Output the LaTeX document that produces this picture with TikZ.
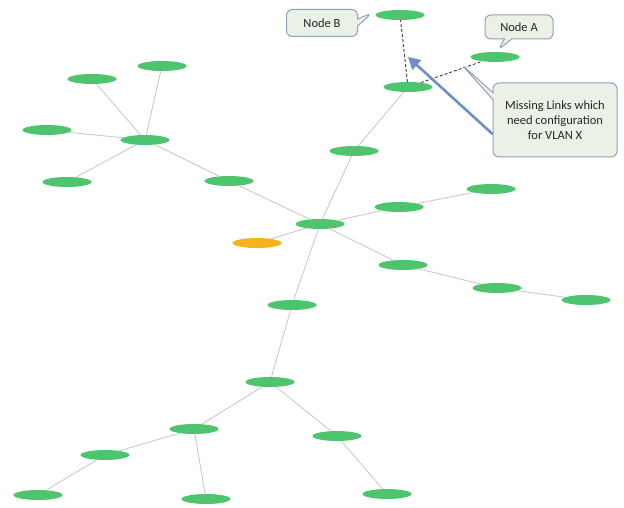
\documentclass[tikz,border=0pt]{standalone}
\usepackage{fontspec}
\setmainfont{Carlito}
\usetikzlibrary{shapes.geometric,shapes.callouts,arrows.meta}
\definecolor{nodegreen}{HTML}{4EC46E}
\definecolor{nodeorange}{HTML}{F5B320}
\definecolor{edgegray}{HTML}{CACACA}
\definecolor{calloutfill}{HTML}{EBF1E7}
\definecolor{calloutline}{HTML}{8FA2B6}
\definecolor{arrowblue}{HTML}{6F8FCB}
\begin{document}
\begin{tikzpicture}[x=1pt,y=-1pt,
  host/.style={ellipse,fill=nodegreen,draw=none,minimum width=49pt,minimum height=10pt,inner sep=0pt},
  hostalt/.style={host,fill=nodeorange},
  link/.style={draw=edgegray,line width=0.9pt},
  missing/.style={draw=black!75,dashed,line width=0.9pt,dash pattern=on 3pt off 2pt},
  note/.style={rectangle callout,rounded corners=6pt,fill=calloutfill,draw=calloutline,line width=1pt,
    font=\fontsize{12.5}{15}\selectfont,text=black!85,align=center}
]
\useasboundingbox (0,0) rectangle (624,508);

% hosts
\node[host] (nb) at (400,15) {};
\node[host] (na) at (495,57) {};
\node[host] (n3) at (408,87) {};
\node[host] (n4) at (354,151) {};
\node[host] (n5) at (145,140) {};
\node[host] (n6) at (92,79) {};
\node[host] (n7) at (162,66) {};
\node[host] (n8) at (47,130) {};
\node[host] (n9) at (67,182) {};
\node[host] (n10) at (229,181) {};
\node[host] (hub) at (320,224) {};
\node[hostalt] (gw) at (257,243) {};
\node[host] (n13) at (399,207) {};
\node[host] (n14) at (491,189) {};
\node[host] (n15) at (403,265) {};
\node[host] (n16) at (497,288) {};
\node[host] (n17) at (586,300) {};
\node[host] (n18) at (292,305) {};
\node[host] (n19) at (270,382) {};
\node[host] (n20) at (194,429) {};
\node[host] (n21) at (337,436) {};
\node[host] (n22) at (105,455) {};
\node[host] (n23) at (38,495) {};
\node[host] (n24) at (206,499) {};
\node[host] (n25) at (387,494) {};

% existing links
\draw[link] (n5) -- (n6);
\draw[link] (n5) -- (n7);
\draw[link] (n5) -- (n8);
\draw[link] (n5) -- (n9);
\draw[link] (n5) -- (n10);
\draw[link] (n10) -- (hub);
\draw[link] (hub) -- (n4);
\draw[link] (n4) -- (n3);
\draw[link] (hub) -- (gw);
\draw[link] (hub) -- (n13);
\draw[link] (n13) -- (n14);
\draw[link] (hub) -- (n15);
\draw[link] (n15) -- (n16);
\draw[link] (n16) -- (n17);
\draw[link] (hub) -- (n18);
\draw[link] (n18) -- (n19);
\draw[link] (n19) -- (n20);
\draw[link] (n19) -- (n21);
\draw[link] (n20) -- (n22);
\draw[link] (n22) -- (n23);
\draw[link] (n20) -- (n24);
\draw[link] (n21) -- (n25);

% links still to be configured
\draw[missing] (n3) -- (nb);
\draw[missing] (n3) -- (na);

% annotations
\node[note,minimum width=71pt,minimum height=27pt,callout absolute pointer={(372,13)}] (lb) at (322,23) {Node B};
\node[note,minimum width=68pt,minimum height=24pt,callout absolute pointer={(498,50)}] (la) at (519,27) {Node A};
\node[note,minimum width=124pt,minimum height=74pt,callout absolute pointer={(462,65)}] (lx) at (555,120)
  {Missing Links which\\need configuration\\for VLAN X};
\coordinate (tip) at (408,57);
\draw[arrowblue,line width=2.6pt,-{Triangle[length=12pt,width=13pt]}] (lx.west |- 0,134) -- (tip);
\end{tikzpicture}
\end{document}
